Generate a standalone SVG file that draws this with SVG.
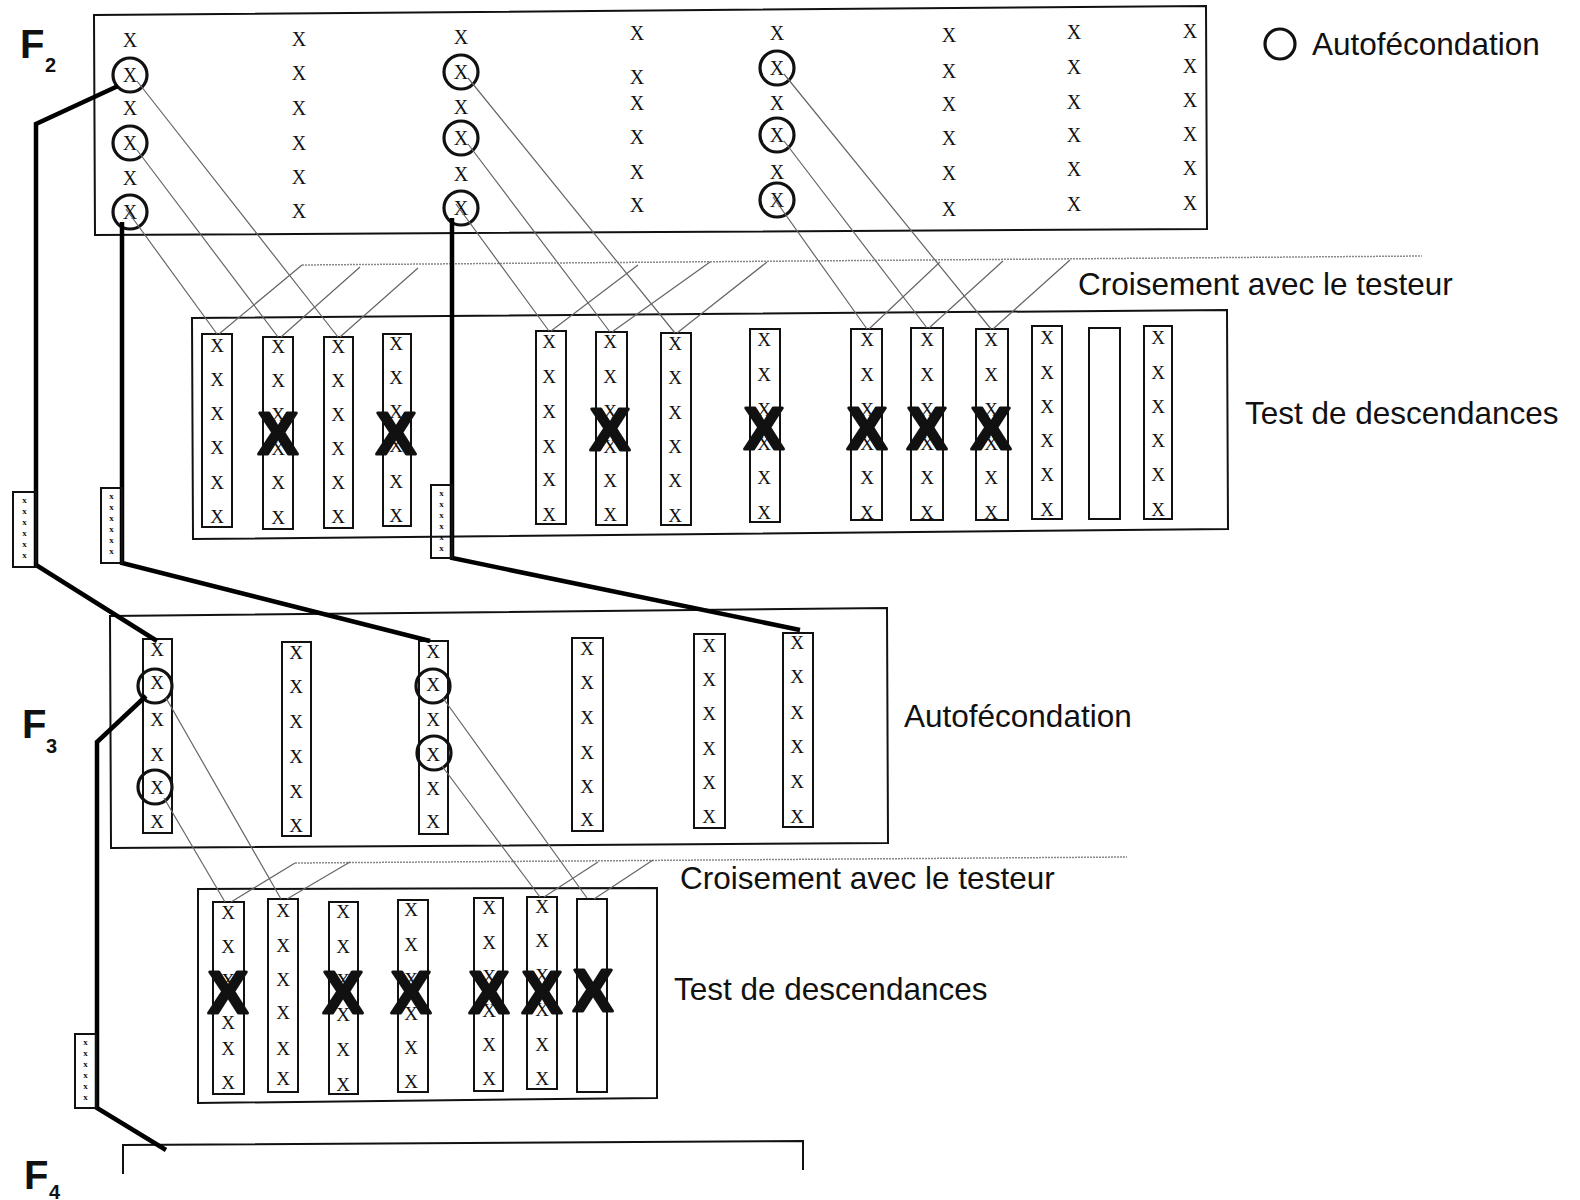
<svg xmlns="http://www.w3.org/2000/svg" width="1580" height="1200" viewBox="0 0 1580 1200">
<style>
.box{fill:none;stroke:#111;stroke-width:2}
.col{fill:none;stroke:#111;stroke-width:2}
.sx{font-family:"Liberation Serif",serif;font-size:19px;fill:#111;text-anchor:middle}
.fx{font-family:"Liberation Serif",serif;font-size:20px;fill:#111;text-anchor:middle}
.tx{font-family:"Liberation Serif",serif;font-size:9px;font-weight:bold;fill:#111;text-anchor:middle}
.bx{font-family:"Liberation Sans",Arial,sans-serif;font-size:60px;font-weight:bold;fill:#111;stroke:#111;stroke-width:3;stroke-linejoin:round;text-anchor:middle}
.circ{fill:none;stroke:#111;stroke-width:3.2}
.lbl{font-family:"Liberation Sans",Arial,sans-serif;font-size:31.5px;fill:#111}
.F{font-family:"Liberation Sans",Arial,sans-serif;font-size:40px;font-weight:bold;fill:#111}
.Fs{font-family:"Liberation Sans",Arial,sans-serif;font-size:20px;font-weight:bold;fill:#111}
.thin{fill:none;stroke:#666;stroke-width:1.2}
.dot{fill:none;stroke:#888;stroke-width:1.5;stroke-dasharray:2 1}
.thick{fill:none;stroke:#000;stroke-width:4.5;stroke-linejoin:miter}
</style>

<g id="labels">
<text class="F" x="20" y="58">F</text><text class="Fs" x="45" y="72">2</text>
<text class="F" x="22" y="738">F</text><text class="Fs" x="46" y="753">3</text>
<text class="F" x="24" y="1189">F</text><text class="Fs" x="49" y="1199">4</text>
<circle class="circ" cx="1280" cy="44" r="15"/>
<text class="lbl" x="1312" y="55">Autofécondation</text>
<text class="lbl" x="1078" y="295">Croisement avec le testeur</text>
<text class="lbl" x="1245" y="424">Test de descendances</text>
<text class="lbl" x="904" y="727">Autofécondation</text>
<text class="lbl" x="680" y="889">Croisement avec le testeur</text>
<text class="lbl" x="674" y="1000">Test de descendances</text>
</g>

<g id="F2">
<path class="box" d="M94,15 L1206,6 L1207,229 L95,235 Z"/>
<text class="fx" x="130 130 130 130 130 130" y="47 82 115 150 185 219">XXXXXX</text>
<text class="fx" x="299 299 299 299 299 299" y="46 80 115 150 184 218">XXXXXX</text>
<text class="fx" x="461 461 461 461 461 461" y="44 79 114 145 181 215">XXXXXX</text>
<text class="fx" x="637 637 637 637 637 637" y="40 84 110 144 179 212">XXXXXX</text>
<text class="fx" x="777 777 777 777 777 777" y="40 75 110 142 179 207">XXXXXX</text>
<text class="fx" x="949 949 949 949 949 949" y="42 78 111 145 180 216">XXXXXX</text>
<text class="fx" x="1074 1074 1074 1074 1074 1074" y="39 74 109 142 176 211">XXXXXX</text>
<text class="fx" x="1190 1190 1190 1190 1190 1190" y="38 73 107 141 175 210">XXXXXX</text>
<circle class="circ" cx="130" cy="75" r="17"/>
<circle class="circ" cx="130" cy="143" r="17"/>
<circle class="circ" cx="130" cy="212" r="17"/>
<circle class="circ" cx="461" cy="72" r="17"/>
<circle class="circ" cx="461" cy="138" r="17"/>
<circle class="circ" cx="461" cy="208" r="17"/>
<circle class="circ" cx="777" cy="68" r="17"/>
<circle class="circ" cx="777" cy="135" r="17"/>
<circle class="circ" cx="777" cy="200" r="17"/>
</g>

<g id="test1">
<path class="box" d="M192,318 L1227,310 L1228,529 L193,539 Z"/>
<rect class="col" x="202" y="334" width="30" height="193"/>
<text class="sx" x="217 217 217 217 217 217" y="352 386 420 454 489 523">XXXXXX</text>
<rect class="col" x="263" y="337" width="30" height="192"/>
<text class="sx" x="278 278 278 278 278 278" y="353 387 421 455 489 524">XXXXXX</text>
<rect class="col" x="324" y="337" width="29" height="191"/>
<text class="sx" x="338 338 338 338 338 338" y="353 387 421 455 489 523">XXXXXX</text>
<rect class="col" x="383" y="334" width="28" height="192"/>
<text class="sx" x="396 396 396 396 396 396" y="350 384 418 452 488 522">XXXXXX</text>
<rect class="col" x="536" y="331" width="30" height="193"/>
<text class="sx" x="549 549 549 549 549 549" y="348 383 418 453 486 521">XXXXXX</text>
<rect class="col" x="596" y="332" width="31" height="193"/>
<text class="sx" x="610 610 610 610 610 610" y="348 383 418 453 487 521">XXXXXX</text>
<rect class="col" x="661" y="333" width="30" height="192"/>
<text class="sx" x="675 675 675 675 675 675" y="350 384 419 453 487 522">XXXXXX</text>
<rect class="col" x="750" y="329" width="30" height="193"/>
<text class="sx" x="764 764 764 764 764 764" y="346 381 416 450 484 519">XXXXXX</text>
<rect class="col" x="851" y="329" width="31" height="191"/>
<text class="sx" x="867 867 867 867 867 867" y="346 381 416 450 484 519">XXXXXX</text>
<rect class="col" x="911" y="328" width="32" height="192"/>
<text class="sx" x="927 927 927 927 927 927" y="346 381 416 450 484 519">XXXXXX</text>
<rect class="col" x="976" y="329" width="32" height="191"/>
<text class="sx" x="991 991 991 991 991 991" y="346 381 416 450 484 519">XXXXXX</text>
<rect class="col" x="1032" y="326" width="30" height="193"/>
<text class="sx" x="1047 1047 1047 1047 1047 1047" y="344 379 413 447 481 516">XXXXXX</text>
<rect class="col" x="1089" y="328" width="31" height="191"/>
<rect class="col" x="1144" y="326" width="28" height="193"/>
<text class="sx" x="1158 1158 1158 1158 1158 1158" y="344 379 413 447 481 516">XXXXXX</text>
<text class="bx" x="278" y="454">X</text>
<text class="bx" x="396" y="454">X</text>
<text class="bx" x="610" y="450">X</text>
<text class="bx" x="764" y="449">X</text>
<text class="bx" x="867" y="449">X</text>
<text class="bx" x="927" y="449">X</text>
<text class="bx" x="991" y="449">X</text>
</g>

<g id="F3">
<path class="box" d="M110,616 L887,608 L888,843 L111,848 Z"/>
<rect class="col" x="143" y="639" width="29" height="194"/>
<text class="sx" x="157 157 157 157 157 157" y="656 689 726 761 794 828">XXXXXX</text>
<rect class="col" x="282" y="642" width="29" height="194"/>
<text class="sx" x="296 296 296 296 296 296" y="659 693 728 763 798 832">XXXXXX</text>
<rect class="col" x="419" y="641" width="29" height="193"/>
<text class="sx" x="433 433 433 433 433 433" y="658 691 726 761 795 828">XXXXXX</text>
<rect class="col" x="572" y="638" width="31" height="193"/>
<text class="sx" x="587 587 587 587 587 587" y="655 689 724 759 793 826">XXXXXX</text>
<rect class="col" x="694" y="634" width="31" height="194"/>
<text class="sx" x="709 709 709 709 709 709" y="652 686 720 755 789 823">XXXXXX</text>
<rect class="col" x="783" y="633" width="30" height="194"/>
<text class="sx" x="797 797 797 797 797 797" y="649 683 719 753 788 823">XXXXXX</text>
<circle class="circ" cx="155" cy="686" r="17"/>
<circle class="circ" cx="155" cy="787" r="17"/>
<circle class="circ" cx="433" cy="686" r="17"/>
<circle class="circ" cx="434" cy="753" r="17"/>
</g>

<g id="test2">
<path class="box" d="M198,889 L657,888 L657,1098 L198,1103 Z"/>
<rect class="col" x="213" y="902" width="31" height="192"/>
<text class="sx" x="228 228 228 228 228 228" y="919 953 987 1029 1055 1089">XXXXXX</text>
<rect class="col" x="268" y="899" width="30" height="193"/>
<text class="sx" x="283 283 283 283 283 283" y="917 952 986 1019 1055 1085">XXXXXX</text>
<rect class="col" x="329" y="902" width="29" height="192"/>
<text class="sx" x="343 343 343 343 343 343" y="918 953 987 1021 1056 1091">XXXXXX</text>
<rect class="col" x="398" y="900" width="30" height="192"/>
<text class="sx" x="411 411 411 411 411 411" y="916 951 986 1020 1054 1088">XXXXXX</text>
<rect class="col" x="474" y="898" width="29" height="193"/>
<text class="sx" x="489 489 489 489 489 489" y="914 949 983 1017 1051 1085">XXXXXX</text>
<rect class="col" x="527" y="897" width="30" height="192"/>
<text class="sx" x="542 542 542 542 542 542" y="913 947 982 1016 1051 1085">XXXXXX</text>
<rect class="col" x="577" y="899" width="30" height="193"/>
<text class="bx" x="228" y="1013">X</text>
<text class="bx" x="343" y="1013">X</text>
<text class="bx" x="411" y="1013">X</text>
<text class="bx" x="489" y="1013">X</text>
<text class="bx" x="542" y="1013">X</text>
<text class="bx" x="593" y="1011">X</text>
</g>

<g id="F4">
<path class="box" d="M123,1174 L123,1145 L803,1141 L803,1170"/>
</g>

<g id="connectors">
<path class="dot" d="M302,265 L1422,256"/>
<path class="thin" d="M137,81 L338,337 M137,150 L278,337 M126,209 L217,334 M468,78 L675,333 M468,144 L610,332 M456,204 L549,331 M784,74 L991,329 M784,141 L927,328 M773,197 L867,329"/>
<path class="thin" d="M302,265 L219,334 M360,267 L281,337 M418,268 L340,337 M638,265 L551,331 M710,262 L612,332 M767,262 L677,333 M940,262 L869,329 M1003,261 L929,328 M1070,260 L993,329"/>
<path class="dot" d="M295,863 L1127,857"/>
<path class="thin" d="M166,698 L281,899 M164,798 L225,902 M443,698 L587,898 M442,766 L540,897"/>
<path class="thin" d="M295,863 L231,902 M350,862 L287,899 M598,862 L544,897 M653,860 L594,899"/>
<path class="thick" d="M118,86 L36,124 L36,565 L157,641"/>
<path class="thick" d="M122,222 L122,563 L430,641"/>
<path class="thick" d="M452,218 L452,558 L800,630"/>
<path class="thick" d="M146,696 L97,742 L97,1108 L166,1150"/>
</g>

<g id="seedlots">
<rect class="col" x="13" y="492" width="23" height="75" fill="#fff"/>
<text class="tx" x="24.5 24.5 24.5 24.5 24.5 24.5" y="503 514 525 536 547 558">xxxxxx</text>
<rect class="col" x="101" y="488" width="21" height="75" fill="#fff"/>
<text class="tx" x="111.5 111.5 111.5 111.5 111.5 111.5" y="499 510 521 532 543 554">xxxxxx</text>
<rect class="col" x="431" y="485" width="21" height="73" fill="#fff"/>
<text class="tx" x="441.5 441.5 441.5 441.5 441.5 441.5" y="496 507 518 529 540 551">xxxxxx</text>
<rect class="col" x="75" y="1034" width="21" height="74" fill="#fff"/>
<text class="tx" x="85.5 85.5 85.5 85.5 85.5 85.5" y="1045 1056 1067 1078 1089 1100">xxxxxx</text>
</g>
</svg>
